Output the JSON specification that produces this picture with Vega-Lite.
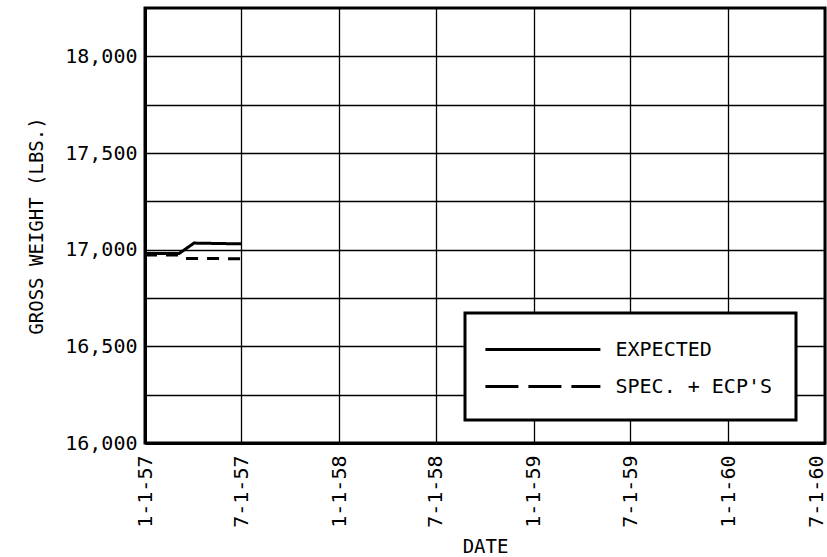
{
  "$schema": "https://vega.github.io/schema/vega-lite/v6.json",
  "autosize": "none",
  "width": 680,
  "height": 435,
  "padding": {"left": 145, "top": 8, "right": 2, "bottom": 114},
  "background": "white",
  "config": {
    "view": {"stroke": "black", "strokeWidth": 3},
    "font": "DejaVu Sans Mono",
    "axis": {
      "grid": true,
      "gridColor": "black",
      "gridOpacity": 1,
      "gridWidth": 1.3,
      "ticks": false,
      "domain": true,
      "domainColor": "black",
      "domainWidth": 3,
      "labelFont": "DejaVu Sans Mono",
      "labelFontSize": 20,
      "labelColor": "black",
      "titleFont": "DejaVu Sans Mono",
      "titleFontSize": 19,
      "titleFontWeight": "normal",
      "titleColor": "black"
    }
  },
  "data": {
    "values": [
      {"date": "1957-01-01", "weight": 16980, "series": "EXPECTED"},
      {"date": "1957-03-06", "weight": 16980, "series": "EXPECTED"},
      {"date": "1957-04-03", "weight": 17034, "series": "EXPECTED"},
      {"date": "1957-07-01", "weight": 17030, "series": "EXPECTED"},
      {"date": "1957-01-01", "weight": 16972, "series": "SPEC. + ECP'S"},
      {"date": "1957-03-06", "weight": 16972, "series": "SPEC. + ECP'S"},
      {"date": "1957-03-16", "weight": 16955, "series": "SPEC. + ECP'S"},
      {"date": "1957-07-01", "weight": 16953, "series": "SPEC. + ECP'S"}
    ]
  },
  "mark": {"type": "line", "strokeWidth": 3, "color": "black", "clip": true},
  "encoding": {
    "x": {
      "field": "date",
      "type": "temporal",
      "title": "DATE",
      "scale": {
        "type": "utc",
        "domain": [
          {"year": 1957, "month": 1, "date": 1, "utc": true},
          {"year": 1960, "month": 7, "date": 1, "utc": true}
        ]
      },
      "axis": {
        "values": [
          {"year": 1957, "month": 1, "date": 1, "utc": true},
          {"year": 1957, "month": 7, "date": 1, "utc": true},
          {"year": 1958, "month": 1, "date": 1, "utc": true},
          {"year": 1958, "month": 7, "date": 1, "utc": true},
          {"year": 1959, "month": 1, "date": 1, "utc": true},
          {"year": 1959, "month": 7, "date": 1, "utc": true},
          {"year": 1960, "month": 1, "date": 1, "utc": true},
          {"year": 1960, "month": 7, "date": 1, "utc": true}
        ],
        "format": "%-m-%-d-%y",
        "labelAngle": -90,
        "labelPadding": 12,
        "labelOffset": {"condition": {"test": "utcyear(datum.value) === 1960 && utcmonth(datum.value) === 6", "value": -9}, "value": 0},
        "titlePadding": 10,
        "labelFlush": false,
        "labelOverlap": false
      }
    },
    "y": {
      "field": "weight",
      "type": "quantitative",
      "title": "GROSS WEIGHT (LBS.)",
      "scale": {"domain": [16000, 18250], "nice": false, "zero": false},
      "axis": {
        "values": [16000, 16250, 16500, 16750, 17000, 17250, 17500, 17750, 18000],
        "labelExpr": "datum.value % 500 === 0 ? format(datum.value, ',') : ''",
        "labelPadding": 8,
        "titlePadding": 18,
        "labelFlush": false
      }
    },
    "strokeDash": {
      "field": "series",
      "type": "nominal",
      "scale": {"range": [[1, 0], [12, 9]]},
      "legend": null
    },
    "opacity": {
      "field": "series",
      "type": "nominal",
      "scale": {"domain": ["EXPECTED", "SPEC. + ECP'S"], "range": [1, 0.999]},
      "legend": {
        "title": null,
        "orient": "none",
        "legendX": 320,
        "legendY": 305,
        "symbolType": "M-1.4,0H8.6",
        "symbolSize": 529,
        "symbolStrokeWidth": 3,
        "symbolStrokeColor": "black",
        "symbolOpacity": 1,
        "labelFont": "DejaVu Sans Mono",
        "labelFontSize": 20,
        "labelColor": "black",
        "labelOffset": 101,
        "padding": 23.5,
        "rowPadding": 14,
        "strokeColor": "black",
        "fillColor": "white",
        "cornerRadius": 0,
        "encode": {
          "legend": {
            "update": {"strokeWidth": {"value": 3}}
          },
          "symbols": {
            "update": {
              "strokeDash": {"signal": "datum.value === 'EXPECTED' ? [1, 0] : [33, 10]"}
            }
          }
        }
      }
    }
  }
}
